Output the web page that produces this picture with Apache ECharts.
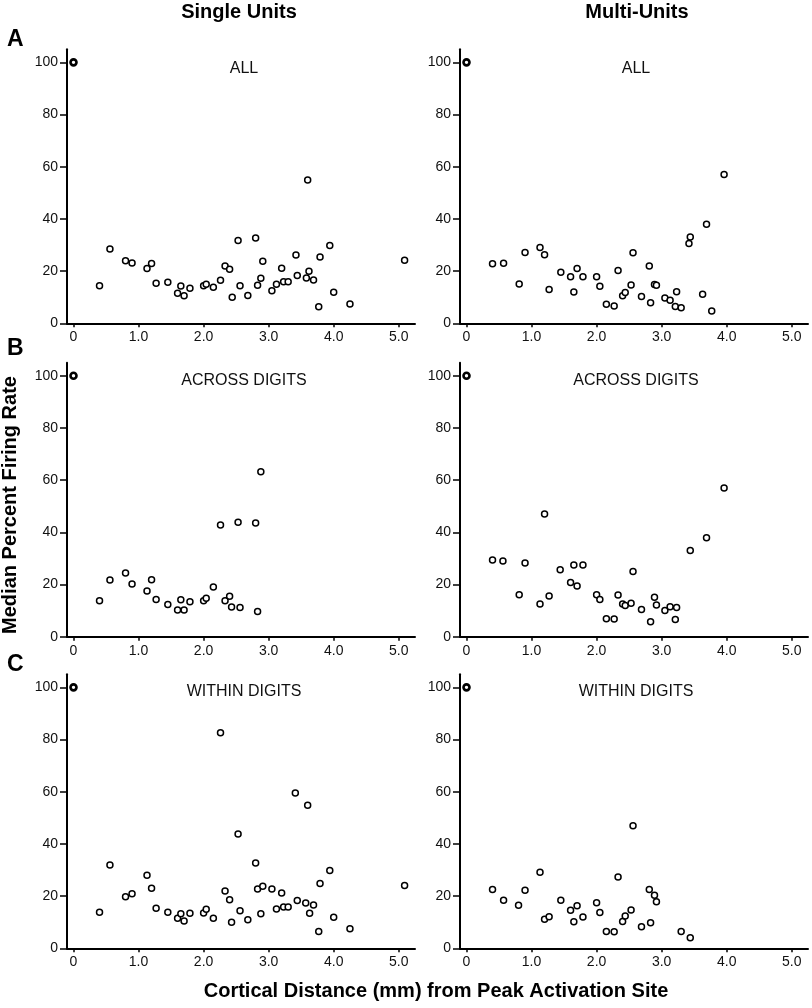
<!DOCTYPE html>
<html>
<head>
<meta charset="utf-8">
<script src="https://cdn.jsdelivr.net/npm/echarts@6/dist/echarts.min.js"></script>
<style>
html,body{margin:0;padding:0;background:#fff;}
#chart{width:812px;height:1008px;}
</style>
</head>
<body>
<div id="chart"></div>
<script>
// ---- Data (distance mm, median percent firing rate) ----
const singleAll = [
  [0,100],[0.40,14.4],[0.56,28.5],[0.80,24.0],[0.90,23.1],[1.13,21.0],[1.20,22.9],[1.27,15.3],
  [1.45,15.7],[1.60,11.5],[1.65,14.3],[1.70,10.6],[1.79,13.4],[2.00,14.4],[2.04,15.0],[2.15,13.8],
  [2.26,16.5],[2.33,22.0],[2.40,20.7],[2.44,10.0],[2.53,31.7],[2.56,14.4],[2.68,10.7],[2.80,32.7],
  [2.83,14.6],[2.88,17.3],[2.91,23.8],[3.05,12.5],[3.12,15.0],[3.20,21.1],[3.23,15.9],[3.30,15.9],
  [3.42,26.2],[3.44,18.3],[3.58,17.4],[3.60,54.9],[3.62,19.9],[3.69,16.6],[3.77,6.3],[3.79,25.4],
  [3.94,29.8],[4.00,11.9],[4.25,7.4],[5.09,24.2]
];
const multiAll = [
  [0,100],[0.40,22.8],[0.57,23.0],[0.81,15.1],[0.90,27.1],[1.13,29.0],[1.20,26.3],[1.27,13.0],
  [1.45,19.6],[1.60,17.8],[1.65,12.0],[1.70,21.0],[1.79,17.8],[2.00,17.8],[2.05,14.2],[2.15,7.3],
  [2.27,6.6],[2.33,20.2],[2.40,10.6],[2.44,11.8],[2.53,14.7],[2.56,27.0],[2.69,10.3],[2.81,22.0],
  [2.83,7.9],[2.89,14.9],[2.92,14.6],[3.05,9.7],[3.13,8.8],[3.21,6.4],[3.23,12.1],[3.30,6.0],
  [3.42,30.6],[3.44,33.1],[3.63,11.1],[3.69,38.0],[3.77,4.7],[3.96,57.0]
];
const singleAcross = [
  [0,100],[0.40,13.8],[0.56,21.7],[0.80,24.4],[0.90,20.2],[1.13,17.5],[1.20,21.8],[1.27,14.3],
  [1.45,12.3],[1.60,10.2],[1.65,14.2],[1.70,10.2],[1.79,13.4],[2.00,13.8],[2.04,14.7],[2.15,19.0],
  [2.26,42.8],[2.33,13.8],[2.40,15.5],[2.43,11.4],[2.53,43.9],[2.56,11.2],[2.80,43.6],[2.83,9.7],
  [2.88,63.2]
];
const multiAcross = [
  [0,100],[0.40,29.4],[0.56,29.0],[0.81,16.1],[0.90,28.2],[1.13,12.5],[1.20,47.0],[1.27,15.6],
  [1.44,25.7],[1.60,20.8],[1.65,27.5],[1.70,19.4],[1.79,27.5],[2.00,16.1],[2.05,14.3],[2.15,6.9],
  [2.27,6.8],[2.33,16.0],[2.40,12.5],[2.44,12.0],[2.53,12.8],[2.56,25.0],[2.69,10.4],[2.83,5.7],
  [2.89,15.1],[2.92,12.1],[3.05,10.0],[3.13,11.5],[3.21,6.6],[3.23,11.2],[3.44,33.0],[3.69,37.9],
  [3.96,57.0]
];
const singleWithin = [
  [0,100],[0.40,13.8],[0.56,31.9],[0.80,19.8],[0.90,20.9],[1.13,28.0],[1.20,23.0],[1.27,15.3],
  [1.45,13.8],[1.60,11.5],[1.65,13.2],[1.70,10.5],[1.79,13.4],[2.00,13.5],[2.04,15.0],[2.15,11.5],
  [2.26,82.6],[2.33,22.0],[2.40,18.6],[2.43,10.0],[2.53,43.8],[2.56,14.4],[2.68,10.9],[2.80,32.7],
  [2.83,22.7],[2.88,13.2],[2.91,23.8],[3.05,22.7],[3.12,15.1],[3.20,21.2],[3.23,15.8],[3.30,15.8],
  [3.41,59.5],[3.44,18.3],[3.57,17.4],[3.60,54.8],[3.63,13.4],[3.69,16.6],[3.77,6.4],[3.79,24.8],
  [3.94,29.8],[4.00,11.9],[4.25,7.5],[5.09,24.1]
];
const multiWithin = [
  [0,100],[0.40,22.5],[0.57,18.4],[0.80,16.5],[0.90,22.2],[1.13,29.1],[1.20,11.1],[1.27,12.1],
  [1.45,18.4],[1.60,14.6],[1.65,10.2],[1.70,16.3],[1.79,12.0],[2.00,17.5],[2.05,13.7],[2.15,6.4],
  [2.27,6.3],[2.33,27.3],[2.40,10.3],[2.44,12.4],[2.53,14.7],[2.56,47.0],[2.69,8.3],[2.81,22.5],
  [2.83,9.8],[2.89,20.3],[2.92,17.8],[3.30,6.4],[3.44,4.0]
];
const xTicks = [0,1,2,3,4,5];
const yTicks = [0,20,40,60,80,100];
const panelTitles = ['ALL','ALL','ACROSS DIGITS','ACROSS DIGITS','WITHIN DIGITS','WITHIN DIGITS'];
const columnTitles = ['Single Units','Multi-Units'];
const rowLetters = ['A','B','C'];
const yTitle = 'Median Percent Firing Rate';
const xTitle = 'Cortical Distance (mm) from Peak Activation Site';

const panels = [singleAll, multiAll, singleAcross, multiAcross, singleWithin, multiWithin];
const FONT = '"Liberation Sans", Arial, sans-serif';

const gridLefts = [67, 460];
const gridTops = [49.3, 362.7, 674.3];
const GW = 348, GH = 274;
const titleX = [244, 636];

const grids = [], xAxes = [], yAxes = [], series = [], graphics = [];
panels.forEach((data, i) => {
  const col = i % 2, row = Math.floor(i / 2);
  grids.push({left: gridLefts[col], top: gridTops[row], width: GW, height: GH});
  xAxes.push({
    type: 'value', gridIndex: i, min: -0.1, max: 5.25,
    axisLine: {show: true, onZero: false, lineStyle: {color: '#000', width: 2}},
    axisTick: {show: true, customValues: xTicks, length: 4, lineStyle: {color: '#000', width: 1.5}},
    axisLabel: {customValues: xTicks, margin: 7, fontSize: 14, color: '#111', fontFamily: FONT,
      formatter: v => v === 0 ? '0' : v.toFixed(1)},
    splitLine: {show: false}
  });
  yAxes.push({
    type: 'value', gridIndex: i, min: 0, max: 105,
    axisLine: {show: true, onZero: false, lineStyle: {color: '#000', width: 2}},
    axisTick: {show: true, customValues: yTicks, length: 7, lineStyle: {color: '#000', width: 1.5}},
    axisLabel: {customValues: yTicks, margin: 9, fontSize: 14, color: '#111', fontFamily: FONT},
    splitLine: {show: false}
  });
  series.push({
    type: 'scatter', xAxisIndex: i, yAxisIndex: i,
    symbol: 'circle', symbolSize: 6,
    itemStyle: {color: '#fff', borderColor: '#000', borderWidth: 1.5, opacity: 1},
    data: data.map(p => (p[0] === 0 && p[1] === 100)
      ? {value: p, itemStyle: {borderWidth: 2.6}} : p),
    emphasis: {disabled: true},
    animation: false
  });
  graphics.push({
    type: 'text',
    x: titleX[col],
    y: gridTops[row] + (row === 0 ? 19 : 17.5),
    style: {text: panelTitles[i], font: '16px ' + FONT, fill: '#111',
      textAlign: 'center', textVerticalAlign: 'middle'}
  });
});

columnTitles.forEach((t, c) => {
  graphics.push({type: 'text', x: [239, 637][c], y: 12,
    style: {text: t, font: 'bold 20px ' + FONT, fill: '#000', textAlign: 'center', textVerticalAlign: 'middle'}});
});
rowLetters.forEach((t, r) => {
  graphics.push({type: 'text', x: 7, y: [40, 349, 665][r],
    style: {text: t, font: 'bold 23px ' + FONT, fill: '#000', textAlign: 'left', textVerticalAlign: 'middle'}});
});
graphics.push({type: 'text', x: 10, y: 505, rotation: Math.PI / 2,
  style: {text: yTitle, font: 'bold 20px ' + FONT, fill: '#000', textAlign: 'center', textVerticalAlign: 'middle'}});
graphics.push({type: 'text', x: 436, y: 991,
  style: {text: xTitle, font: 'bold 20px ' + FONT, fill: '#000', textAlign: 'center', textVerticalAlign: 'middle'}});

const chart = echarts.init(document.getElementById('chart'), null, {renderer: 'canvas'});
chart.setOption({
  animation: false,
  backgroundColor: '#fff',
  grid: grids, xAxis: xAxes, yAxis: yAxes, series: series,
  graphic: graphics
});
</script>
</body>
</html>
